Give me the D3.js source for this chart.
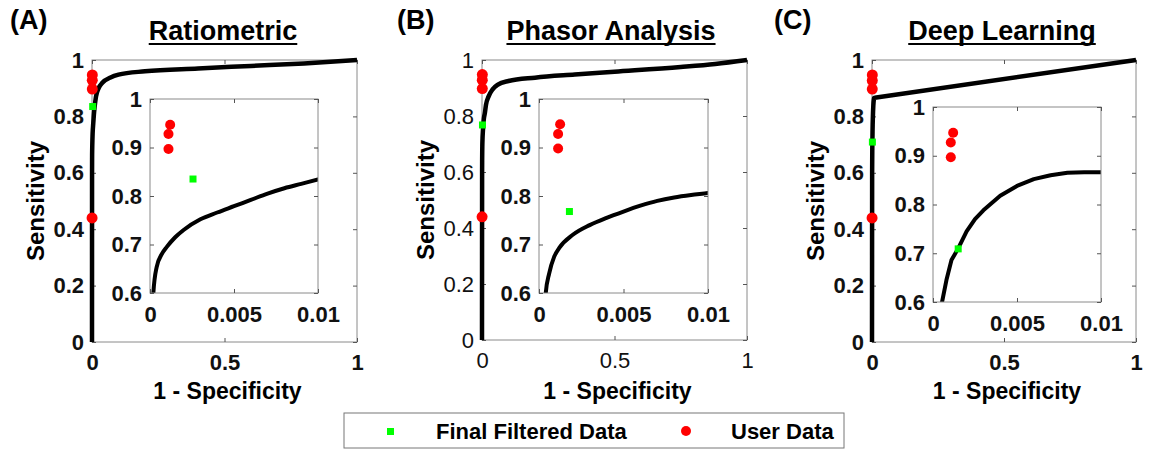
<!DOCTYPE html>
<html>
<head>
<meta charset="utf-8">
<script src="https://cdn.jsdelivr.net/npm/d3@7"></script>
<style>
  body { margin: 0; background: #fff; }
  svg { display: block; font-family: "Liberation Sans", Arial, sans-serif; }
</style>
</head>
<body>
<svg id="chart" width="1151" height="449"></svg>
<script>
// ROC curves, [1 - specificity, sensitivity]
var rocRatiometric = [[0,0],[0.0002,0.6],[0.0004,0.654],[0.0007,0.68],[0.001,0.695],[0.0015,0.715],[0.002,0.73],
  [0.003,0.752],[0.004,0.766],[0.005,0.779],[0.006,0.792],[0.007,0.805],[0.008,0.816],[0.009,0.825],[0.01,0.834],
  [0.015,0.87],[0.025,0.9],[0.04,0.92],[0.07,0.938],[0.1,0.948],[0.2,0.96],[0.4,0.97],[0.6,0.979],[0.8,0.988],[1,1]];
var rocPhasor = [[0,0],[0.0004,0.6],[0.0006,0.64],[0.0009,0.675],[0.0012,0.693],[0.002,0.72],[0.003,0.74],
  [0.004,0.755],[0.005,0.768],[0.006,0.78],[0.007,0.79],[0.008,0.797],[0.009,0.802],[0.01,0.806],
  [0.015,0.84],[0.025,0.87],[0.04,0.895],[0.06,0.912],[0.1,0.925],[0.2,0.937],[0.35,0.948],[0.5,0.958],
  [0.75,0.975],[0.88,0.986],[1,1]];
var rocDeep = [[0,0],[0.00054,0.6],[0.0008,0.645],[0.0011,0.686],[0.0015,0.71],[0.002,0.745],[0.0025,0.77],
  [0.003,0.788],[0.004,0.818],[0.005,0.838],[0.006,0.852],[0.007,0.86],[0.008,0.865],[0.009,0.866],[0.01,0.866],[1,1]];

// markers
var userRatiometric = [[0.0012,0.947],[0.0011,0.928],[0.0011,0.897],[0.0003,0.44]];
var userPhasor = [[0.00125,0.948],[0.00113,0.928],[0.00113,0.898],[0.0003,0.44]];
var userDeep = [[0.0012,0.947],[0.00106,0.927],[0.00106,0.897],[0.0003,0.44]];
var filteredRatiometric = [[0.00256,0.835]];
var filteredPhasor = [[0.0018,0.768]];
var filteredDeep = [[0.0015,0.709]];

var panelLetters = ['(A)', '(B)', '(C)'];
var panelTitles = ['Ratiometric', 'Phasor Analysis', 'Deep Learning'];
var mainXTicks = [0, 0.5, 1];
var mainYTicks = [0, 0.2, 0.4, 0.6, 0.8, 1];
var insetXTicks = [0, 0.005, 0.01];
var insetYTicks = [0.6, 0.7, 0.8, 0.9, 1];
var legendLabels = ['Final Filtered Data', 'User Data'];

var svg = d3.select('#chart');
var fmt = d3.format('~g');

// pixel boxes for each panel
var panels = [
  {roc: rocRatiometric, user: userRatiometric, filt: filteredRatiometric, curve: d3.curveMonotoneX,
   main: [92, 357, 60, 342], inset: [150, 318, 99, 293], letterX: 10, titleX: 223, boldMain: true},
  {roc: rocPhasor, user: userPhasor, filt: filteredPhasor, curve: d3.curveMonotoneX,
   main: [482, 747, 60, 340], inset: [539, 708, 99, 293], letterX: 397, titleX: 611, boldMain: false},
  {roc: rocDeep, user: userDeep, filt: filteredDeep, curve: d3.curveLinear,   // straight segment to (1,1)
   main: [872, 1136, 60, 342], inset: [933, 1101, 107, 302], letterX: 774, titleX: 1002, boldMain: true}
];

function drawAxes(g, box, xs, ys, xt, yt, bold, xPad, yPad)
{
  g.append('rect')
    .attr('x', box[0]).attr('y', box[2])
    .attr('width', box[1]-box[0]).attr('height', box[3]-box[2])
    .attr('fill', 'none').attr('stroke', '#8a8a8a').attr('stroke-width', 1);

  var ax = [
    [d3.axisBottom(xs).tickValues(xt).tickFormat(fmt).tickPadding(xPad), box[3]],
    [d3.axisTop(xs).tickValues(xt).tickFormat(''), box[2]]
  ];
  ax.forEach(function(a) {
    var gg = g.append('g').attr('transform', 'translate(0,' + a[1] + ')')
      .call(a[0].tickSizeInner(-4).tickSizeOuter(0));
    gg.select('.domain').remove();
  });
  var ay = [
    [d3.axisLeft(ys).tickValues(yt).tickFormat(fmt).tickPadding(yPad), box[0]],
    [d3.axisRight(ys).tickValues(yt).tickFormat(''), box[1]]
  ];
  ay.forEach(function(a) {
    var gg = g.append('g').attr('transform', 'translate(' + a[1] + ',0)')
      .call(a[0].tickSizeInner(-4).tickSizeOuter(0));
    gg.select('.domain').remove();
  });
  g.selectAll('.tick line').attr('stroke', '#555');
  g.selectAll('.tick text')
    .attr('fill', '#111')
    .style('font-size', '22px')
    .style('font-weight', bold ? 'bold' : 'normal')
    .style('font-family', '"Liberation Sans", Arial, sans-serif');
}

function drawMarkers(g, pts, filt, xs, ys, r, sq)
{
  g.selectAll('.user').data(pts).enter().append('circle')
    .attr('cx', function(d) { return xs(d[0]); })
    .attr('cy', function(d) { return ys(d[1]); })
    .attr('r', r).attr('fill', '#ff0000');
  g.selectAll('.filt').data(filt).enter().append('rect')
    .attr('x', function(d) { return xs(d[0]) - sq/2; })
    .attr('y', function(d) { return ys(d[1]) - sq/2; })
    .attr('width', sq).attr('height', sq).attr('fill', '#00ff00');
}

panels.forEach(function(p, i)
{
  var g = svg.append('g');
  var m = p.main, n = p.inset;

  // panel letter and underlined title
  g.append('text').attr('x', p.letterX).attr('y', 29)
    .style('font-size', '27px').style('font-weight', 'bold').text(panelLetters[i]);
  var t = g.append('text').attr('x', p.titleX).attr('y', 40).attr('text-anchor', 'middle')
    .style('font-size', '27px').style('font-weight', 'bold').text(panelTitles[i]);
  var tw = t.node().getComputedTextLength();
  g.append('line').attr('x1', p.titleX - tw/2).attr('x2', p.titleX + tw/2)
    .attr('y1', 44).attr('y2', 44).attr('stroke', '#000').attr('stroke-width', 2);

  // main plot
  var x = d3.scaleLinear().domain([0, 1]).range([m[0], m[1]]);
  var y = d3.scaleLinear().domain([0, 1]).range([m[3], m[2]]);
  drawAxes(g, m, x, y, mainXTicks, mainYTicks, p.boldMain, 12, 8);

  var line = d3.line().curve(p.curve)
    .x(function(d) { return x(d[0]); }).y(function(d) { return y(d[1]); });
  g.append('path').datum(p.roc).attr('d', line)
    .attr('fill', 'none').attr('stroke', '#000').attr('stroke-width', 4.5)
    .attr('stroke-linejoin', 'round');
  drawMarkers(g, p.user, p.filt, x, y, 5.5, 7);

  g.append('text').attr('transform', 'translate(' + (m[0] - 48) + ',' + ((m[2]+m[3])/2) + ') rotate(-90)')
    .attr('text-anchor', 'middle').style('font-size', '24px').style('font-weight', 'bold').text('Sensitivity');
  g.append('text').attr('x', (m[0]+m[1])/2 + 3).attr('y', 399).attr('text-anchor', 'middle')
    .style('font-size', '23px').style('font-weight', 'bold').text('1 - Specificity');

  // inset zoom
  var gi = g.append('g');
  gi.append('rect').attr('x', n[0]).attr('y', n[2])
    .attr('width', n[1]-n[0]).attr('height', n[3]-n[2]).attr('fill', '#fff');
  var xi = d3.scaleLinear().domain([0, 0.01]).range([n[0], n[1]]);
  var yi = d3.scaleLinear().domain([0.6, 1]).range([n[3], n[2]]);
  var clipId = 'clip' + i;
  gi.append('clipPath').attr('id', clipId).append('rect')
    .attr('x', n[0]).attr('y', n[2]).attr('width', n[1]-n[0]).attr('height', n[3]-n[2]);
  var lineI = d3.line().curve(p.curve)
    .x(function(d) { return xi(d[0]); }).y(function(d) { return yi(d[1]); });
  gi.append('path').datum(p.roc).attr('d', lineI).attr('clip-path', 'url(#' + clipId + ')')
    .attr('fill', 'none').attr('stroke', '#000').attr('stroke-width', 4)
    .attr('stroke-linejoin', 'round');
  drawMarkers(gi, p.user.filter(function(d) { return d[1] >= 0.6; }), p.filt, xi, yi, 5, 7);
  drawAxes(gi, n, xi, yi, insetXTicks, insetYTicks, true, 13, 8);
});

// legend
var lg = svg.append('g');
lg.append('rect').attr('x', 344).attr('y', 413).attr('width', 500).attr('height', 35)
  .attr('fill', '#fff').attr('stroke', '#777').attr('stroke-width', 1);
lg.append('rect').attr('x', 387).attr('y', 428).attr('width', 7).attr('height', 7).attr('fill', '#00ff00');
lg.append('text').attr('x', 436).attr('y', 439).style('font-size', '22px').style('font-weight', 'bold')
  .text(legendLabels[0]);
lg.append('circle').attr('cx', 686).attr('cy', 431).attr('r', 5).attr('fill', '#ff0000');
lg.append('text').attr('x', 731).attr('y', 439).style('font-size', '22px').style('font-weight', 'bold')
  .text(legendLabels[1]);
</script>
</body>
</html>
